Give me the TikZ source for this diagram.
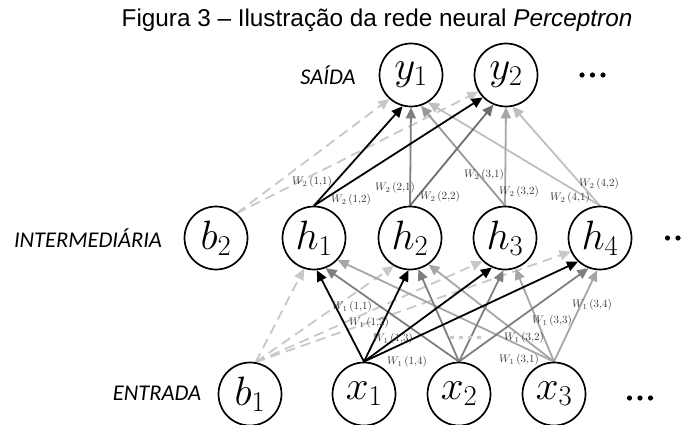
\RequirePackage{fix-cm}
\documentclass[tikz,border=0pt]{standalone}
\usepackage{fontspec}
\setmainfont{Liberation Sans}
\newfontfamily\layerfont{Carlito}
\usetikzlibrary{arrows.meta,backgrounds}

\definecolor{gA}{HTML}{7F7F7F}
\definecolor{gAd}{HTML}{6E6E6E}
\definecolor{gB}{HTML}{A6A6A6}
\definecolor{gBd}{HTML}{999999}
\definecolor{gC}{HTML}{BFBFBF}
\definecolor{biasgray}{HTML}{C8C8C8}
\definecolor{labelgray}{HTML}{363636}

\begin{document}
\begin{tikzpicture}[x=1pt,y=-1pt,
  neuron/.style={circle,draw,line width=1.7pt,fill=white,minimum size=63pt,
    inner sep=0pt,font=\fontsize{41}{43}\selectfont},
  layer/.style={font=\layerfont\itshape\fontsize{22.5}{25}\selectfont,inner sep=0pt},
  wlabel/.style={font=\fontsize{11}{12}\selectfont,text=labelgray,inner sep=0pt},
  conn/.style={line width=1.8pt,-{Triangle[length=11pt,width=10pt]}},
  bias/.style={conn,draw=biasgray,dash pattern=on 10pt off 6pt},
  ellip/.style={fill=black}
]
\useasboundingbox (0,0) rectangle (685,425);

% title
\node[font=\fontsize{24.3}{27}\selectfont] (title) at (377,20)
  {Figura 3 – Ilustração da rede neural \textit{Perceptron}};

% layer captions
\node[layer] (lout) at (328,75) {SAÍDA};
\node[layer] (lhid) at (88,238) {INTERMEDIÁRIA};
\node[layer] (lin)  at (157,393) {ENTRADA};

% neurons
\node[neuron] (y1) at (411,75)  {$y_1$};
\node[neuron] (y2) at (506,75)  {$y_2$};
\node[neuron] (b2) at (216,238) {$b_2$};
\node[neuron] (h1) at (314,238) {$h_1$};
\node[neuron] (h2) at (410,238) {$h_2$};
\node[neuron] (h3) at (505,238) {$h_3$};
\node[neuron] (h4) at (600,238) {$h_4$};
\node[neuron] (b1) at (250,394) {$b_1$};
\node[neuron] (x1) at (364,394) {$x_1$};
\node[neuron] (x2) at (459,394) {$x_2$};
\node[neuron] (x3) at (554,394) {$x_3$};

\begin{scope}[on background layer]
% hidden -> output
\draw[bias] (b2.50) -- (y1.-132);
\draw[bias] (b2.50) -- (y2.-149);
\draw[conn,draw=gC]  (h4.north) -- (y1.-58);
\draw[conn,draw=gC]  (h4.north) -- (y2.-78);
\draw[conn,draw=gBd] (h3.north) -- (y1.-72);
\draw[conn,draw=gB]  (h3.north) -- (y2.-90);
\draw[conn,draw=gA]  (h2.north) -- (y1.-90);
\draw[conn,draw=gAd] (h2.north) -- (y2.-113);
\draw[conn,draw=black] (h1.north) -- (y1.-105);
\draw[conn,draw=black] (h1.north) -- (y2.-136);

% input -> hidden
\draw[bias] (b1.80) -- (h1.-108);
\draw[bias] (b1.80) -- (h2.-120);
\draw[bias] (b1.80) -- (h3.-134);
\draw[bias] (b1.80) -- (h4.-155);
\draw[conn,draw=gB] (x3.north) -- (h1.-43);
\draw[conn,draw=gB] (x3.north) -- (h2.-55);
\draw[conn,draw=gB] (x3.north) -- (h3.-71);
\draw[conn,draw=gB] (x3.north) -- (h4.-95);
\draw[conn,draw=gA] (x2.north) -- (h1.-69);
\draw[conn,draw=gA] (x2.north) -- (h2.-75);
\draw[conn,draw=gA] (x2.north) -- (h3.-93);
\draw[conn,draw=gA] (x2.north) -- (h4.-111);
\draw[conn,draw=black] (x1.north) -- (h1.-85);
\draw[conn,draw=black] (x1.north) -- (h2.-93);
\draw[conn,draw=black] (x1.north) -- (h3.-114);
\draw[conn,draw=black] (x1.north) -- (h4.-133);

% dotted hint for the omitted weights of x2
\coordinate (dotsA) at (450,337);
\coordinate (dotsB) at (482,337);
\draw[biasgray,line width=3pt,dash pattern=on 4pt off 5pt] (dotsA) -- (dotsB);
\end{scope}

% weight labels, second layer
\node[wlabel] (w211) at (312,182) {$W_2\,(1{,}1)$};
\node[wlabel] (w212) at (351,200) {$W_2\,(1{,}2)$};
\node[wlabel] (w221) at (395,188) {$W_2\,(2{,}1)$};
\node[wlabel] (w222) at (440,197) {$W_2\,(2{,}2)$};
\node[wlabel] (w231) at (484,175) {$W_2\,(3{,}1)$};
\node[wlabel] (w232) at (519,192) {$W_2\,(3{,}2)$};
\node[wlabel] (w241) at (570,198) {$W_2\,(4{,}1)$};
\node[wlabel] (w242) at (599,184) {$W_2\,(4{,}2)$};

% weight labels, first layer
\node[wlabel] (w111) at (352,307) {$W_1\,(1{,}1)$};
\node[wlabel] (w112) at (369,323) {$W_1\,(1{,}2)$};
\node[wlabel] (w113) at (393,339) {$W_1\,(1{,}3)$};
\node[wlabel] (w114) at (407,362) {$W_1\,(1{,}4)$};
\node[wlabel] (w131) at (519,360) {$W_1\,(3{,}1)$};
\node[wlabel] (w132) at (524,338) {$W_1\,(3{,}2)$};
\node[wlabel] (w133) at (552,321) {$W_1\,(3{,}3)$};
\node[wlabel] (w134) at (592,305) {$W_1\,(3{,}4)$};

% ellipses for further neurons
\begin{scope}
\clip (0,0) rectangle (685,425);
\foreach \dx in {-10.5,0,10.5} {
  \fill[ellip] (592.5+\dx,75) circle (2.6);
  \fill[ellip] (678+\dx,238) circle (2.6);
  \fill[ellip] (640+\dx,398) circle (2.6);
}
\end{scope}
\end{tikzpicture}
\end{document}
